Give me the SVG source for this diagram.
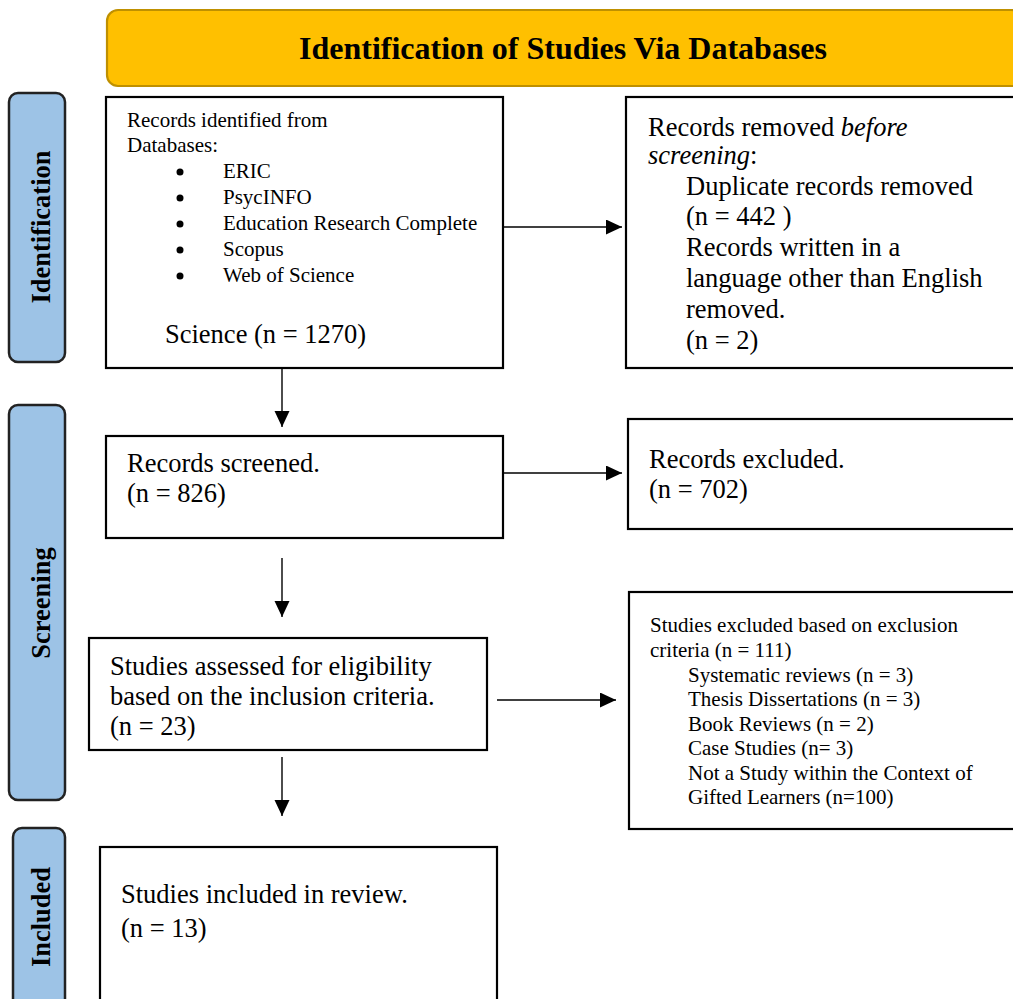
<svg xmlns="http://www.w3.org/2000/svg" width="1013" height="999" viewBox="0 0 1013 999">
<defs>
<style>
text{font-family:"Liberation Serif","Times New Roman",serif;fill:#000}
.box{fill:#fff;stroke:#000;stroke-width:2.2}
.side{fill:#9DC3E6;stroke:#222;stroke-width:2.5}
.lbl{font-weight:bold;font-size:26.5px}
.t26{font-size:26.5px}
.t21{font-size:21px}
.conn{stroke:#000;stroke-width:1.4;fill:none;marker-end:url(#ah)}
</style>
<marker id="ah" markerUnits="userSpaceOnUse" markerWidth="16" markerHeight="16" refX="16" refY="7.5" orient="auto">
<path d="M0,0 L16,7.5 L0,15 Z" fill="#000"/>
</marker>
</defs>
<rect width="1013" height="999" fill="#fff"/>

<g id="title">
<rect x="107" y="10" width="915" height="76" rx="11" fill="#FFC000" stroke="#BF9000" stroke-width="2.2"/>
<text x="563" y="59" text-anchor="middle" font-size="32" font-weight="bold">Identification of Studies Via Databases</text>
</g>

<g id="stage-identification">
<rect class="side" x="9" y="93" width="56" height="269" rx="9"/>
<text class="lbl" transform="translate(50,227) rotate(-90)" text-anchor="middle">Identification</text>
</g>
<g id="stage-screening">
<rect class="side" x="9" y="405" width="56" height="395" rx="9"/>
<text class="lbl" transform="translate(50,603) rotate(-90)" text-anchor="middle">Screening</text>
</g>
<g id="stage-included">
<rect class="side" x="13" y="828" width="52" height="190" rx="9"/>
<text class="lbl" transform="translate(50,917) rotate(-90)" text-anchor="middle">Included</text>
</g>

<g id="records-identified">
<rect class="box" x="106" y="97" width="397" height="271"/>
<text class="t21" x="127" y="127">Records identified from</text>
<text class="t21" x="127" y="152">Databases:</text>
<g fill="#000">
<circle cx="180" cy="172" r="3.5"/>
<circle cx="180" cy="198" r="3.5"/>
<circle cx="180" cy="224" r="3.5"/>
<circle cx="180" cy="250" r="3.5"/>
<circle cx="180" cy="276" r="3.5"/>
</g>
<text class="t21" x="223" y="178">ERIC</text>
<text class="t21" x="223" y="204">PsycINFO</text>
<text class="t21" x="223" y="230">Education Research Complete</text>
<text class="t21" x="223" y="256">Scopus</text>
<text class="t21" x="223" y="282">Web of Science</text>
<text class="t26" x="165" y="343">Science (n = 1270)</text>
</g>

<g id="records-removed">
<rect class="box" x="626" y="97" width="400" height="271"/>
<text class="t26" x="648" y="136">Records removed <tspan font-style="italic">before</tspan></text>
<text class="t26" x="648" y="164"><tspan font-style="italic">screening</tspan>:</text>
<text class="t26" x="686" y="195">Duplicate records removed</text>
<text class="t26" x="686" y="225">(n = 442 )</text>
<text class="t26" x="686" y="256">Records written in a</text>
<text class="t26" x="686" y="287">language other than English</text>
<text class="t26" x="686" y="318">removed.</text>
<text class="t26" x="686" y="349">(n = 2)</text>
</g>

<g id="records-screened">
<rect class="box" x="106" y="436" width="397" height="102"/>
<text class="t26" x="127" y="472">Records screened.</text>
<text class="t26" x="127" y="502">(n = 826)</text>
</g>

<g id="records-excluded">
<rect class="box" x="628" y="419" width="400" height="110"/>
<text class="t26" x="649" y="468">Records excluded.</text>
<text class="t26" x="649" y="498">(n = 702)</text>
</g>

<g id="studies-assessed">
<rect class="box" x="89" y="638" width="398" height="112"/>
<text class="t26" x="110" y="675">Studies assessed for eligibility</text>
<text class="t26" x="110" y="705">based on the inclusion criteria.</text>
<text class="t26" x="110" y="735">(n = 23)</text>
</g>

<g id="studies-excluded">
<rect class="box" x="629" y="592" width="400" height="237"/>
<text class="t21" x="650" y="632">Studies excluded based on exclusion</text>
<text class="t21" x="650" y="657">criteria (n = 111)</text>
<text class="t21" x="688" y="682">Systematic reviews (n = 3)</text>
<text class="t21" x="688" y="706">Thesis Dissertations (n = 3)</text>
<text class="t21" x="688" y="731">Book Reviews (n = 2)</text>
<text class="t21" x="688" y="755">Case Studies (n= 3)</text>
<text class="t21" x="688" y="780">Not a Study within the Context of</text>
<text class="t21" x="688" y="804">Gifted Learners (n=100)</text>
</g>

<g id="studies-included">
<rect class="box" x="100" y="847" width="397" height="170"/>
<text class="t26" x="121" y="903">Studies included in review.</text>
<text class="t26" x="121" y="937">(n = 13)</text>
</g>

<g id="connectors">
<line class="conn" x1="503" y1="227" x2="622" y2="227"/>
<line class="conn" x1="282" y1="368" x2="282" y2="427"/>
<line class="conn" x1="503" y1="473" x2="622" y2="473"/>
<line class="conn" x1="282" y1="558" x2="282" y2="617"/>
<line class="conn" x1="497" y1="700" x2="616" y2="700"/>
<line class="conn" x1="282" y1="757" x2="282" y2="816"/>
</g>
</svg>
